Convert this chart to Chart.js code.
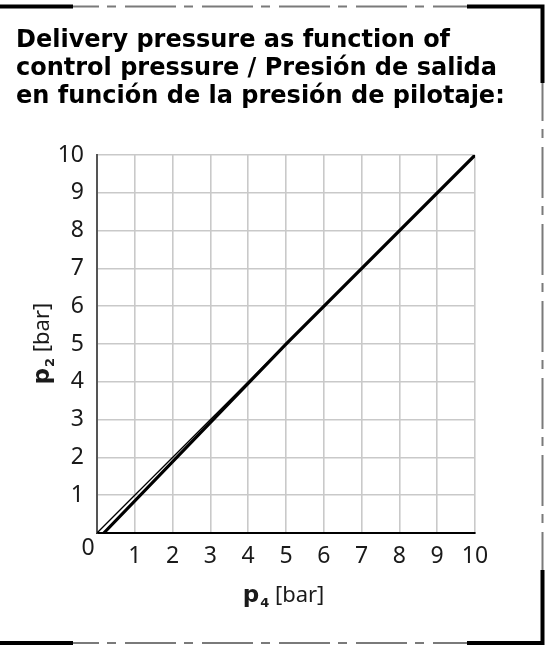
<!DOCTYPE html>
<html>
<head>
<meta charset="utf-8">
<script src="https://cdn.jsdelivr.net/npm/chart.js@4.4.1/dist/chart.umd.min.js"></script>
<style>
html,body{margin:0;padding:0;background:#fff;}
#wrap{position:relative;width:545px;height:646px;}
</style>
</head>
<body>
<div id="wrap"><canvas id="c" width="545" height="646"></canvas></div>
<script>
// ---- data ----
const titleLines = ["Delivery pressure as function of", "control pressure / Presión de salida", "en función de la presión de pilotaje:"];
const xTicks = [0,1,2,3,4,5,6,7,8,9,10];
const yTicks = [0,1,2,3,4,5,6,7,8,9,10];
const mainX = [0.18, 5, 10];
const mainY = [0, 5, 10];
const thinX = [0, 4.5];
const thinY = [0, 4.5];
const xLabel = {sym:"p", sub:"4", unit:" [bar]"};
const yLabel = {sym:"p", sub:"2", unit:" [bar]"};

const FONT = "'DejaVu Sans', 'Liberation Sans', sans-serif";
const TICKFONT = "'Noto Sans', 'DejaVu Sans', sans-serif";

const frame = {
  id:'frame',
  beforeDraw(chart){
    const ctx = chart.ctx;
    ctx.save();
    ctx.lineCap = 'butt';
    ctx.strokeStyle = '#000'; ctx.lineWidth = 4;
    ctx.beginPath();
    ctx.moveTo(0,6.5); ctx.lineTo(73,6.5);
    ctx.moveTo(467,6.5); ctx.lineTo(542.5,6.5); ctx.lineTo(542.5,83);
    ctx.moveTo(542.5,570); ctx.lineTo(542.5,643); ctx.lineTo(467,643);
    ctx.moveTo(73,643); ctx.lineTo(0,643);
    ctx.stroke();
    ctx.strokeStyle = '#7a7a7a'; ctx.lineWidth = 2;
    ctx.setLineDash([51,8,9,9]);
    ctx.lineDashOffset = 25;
    ctx.beginPath();
    ctx.moveTo(73,6.5); ctx.lineTo(467,6.5);
    ctx.moveTo(73,643); ctx.lineTo(467,643);
    ctx.stroke();
    ctx.lineDashOffset = 13;
    ctx.beginPath();
    ctx.moveTo(542.5,83); ctx.lineTo(542.5,570);
    ctx.stroke();
    ctx.restore();
  },
  afterDraw(chart){
    const ctx = chart.ctx;
    const xs = chart.scales.x, ys = chart.scales.y;
    ctx.save();
    ctx.fillStyle = '#1a1a1a';
    ctx.font = "23px " + TICKFONT;
    ctx.textAlign = 'center'; ctx.textBaseline = 'middle';
    ctx.fillText(String(xTicks[0]), xs.getPixelForValue(0) - 9, ys.getPixelForValue(0) + 15);
    function drawLabel(lbl, cx, cy, rot){
      ctx.save();
      ctx.translate(cx, cy); ctx.rotate(rot);
      ctx.textBaseline = 'alphabetic'; ctx.textAlign = 'left';
      const fb = "bold 23px " + FONT, fs = "bold 13px " + FONT, fn = "22px " + TICKFONT;
      ctx.font = fb; const w1 = ctx.measureText(lbl.sym).width;
      ctx.font = fs; const w2 = ctx.measureText(lbl.sub).width;
      ctx.font = fn; const w3 = ctx.measureText(lbl.unit).width;
      let x = -(w1+w2+w3)/2; const base = 7;
      ctx.font = fb; ctx.fillText(lbl.sym, x, base); x += w1 + 1;
      ctx.font = fs; ctx.fillText(lbl.sub, x, base + 5); x += w2;
      ctx.font = fn; ctx.fillText(lbl.unit, x, base);
      ctx.restore();
    }
    drawLabel(xLabel, (xs.left + xs.right)/2 - 3, 595, 0);
    drawLabel(yLabel, 42, (ys.top + ys.bottom)/2, -Math.PI/2);
    ctx.restore();
  }
};

new Chart(document.getElementById('c'), {
  type:'scatter',
  data:{
    datasets:[
      {data: thinX.map((x,i)=>({x, y: thinY[i]})), showLine:true, borderColor:'#000', borderWidth:1.3, pointRadius:0, fill:false},
      {data: mainX.map((x,i)=>({x, y: mainY[i]})), showLine:true, borderColor:'#000', borderWidth:3.2, pointRadius:0, fill:false}
    ]
  },
  plugins:[frame],
  options:{
    responsive:false, animation:false, devicePixelRatio:1,
    layout:{padding:{left:16, right:4, top:0, bottom:0}},
    plugins:{
      legend:{display:false}, tooltip:{enabled:false},
      title:{display:true, text:titleLines, align:'start', color:'#000',
        font:{family:FONT, size:24, weight:'bold', lineHeight:1.16},
        padding:{top:27.3, bottom:44.3}}
    },
    scales:{
      x:{type:'linear', min:0, max:10,
        afterBuildTicks(s){ s.ticks = xTicks.map(v=>({value:v})); },
        afterFit(s){ s.height = 113; },
        grid:{color:'#c9c9c9', lineWidth:1.6, drawTicks:false},
        border:{color:'#000', width:2},
        ticks:{padding:10, color:'#1a1a1a', font:{family:TICKFONT, size:23}, maxRotation:0,
          callback:(v)=> v===0 ? '' : String(v)}
      },
      y:{type:'linear', min:0, max:10,
        afterBuildTicks(s){ s.ticks = yTicks.map(v=>({value:v})); },
        afterFit(s){ s.width = 81; },
        grid:{color:'#c9c9c9', lineWidth:1.6, drawTicks:false},
        border:{color:'#555', width:2},
        ticks:{padding:13, color:'#1a1a1a', font:{family:TICKFONT, size:23},
          callback:(v)=> v===0 ? '' : String(v)}
      },
      yRight:{type:'linear', position:'right', min:0, max:10,
        afterFit(s){ s.width = 66; },
        grid:{display:false, drawOnChartArea:false}, border:{display:false},
        ticks:{display:false}
      }
    }
  }
});
</script>
</body>
</html>
